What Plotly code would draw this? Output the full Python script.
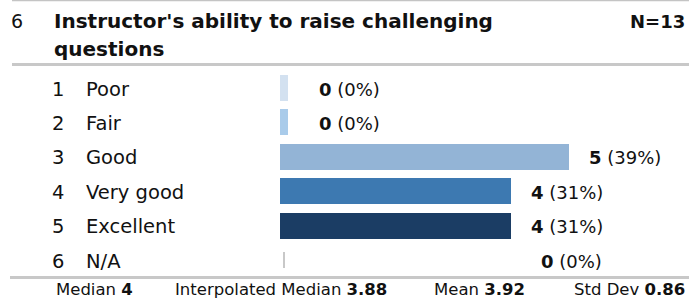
import plotly.graph_objects as go

# ---------------- data ----------------
question_no = "6"
question = ["Instructor's ability to raise challenging", "questions"]
n_total = "N=13"
codes = ["1", "2", "3", "4", "5", "6"]
categories = ["Poor", "Fair", "Good", "Very good", "Excellent", "N/A"]
counts = [0, 0, 5, 4, 4, 0]
percents = [0, 0, 39, 31, 31, 0]
stat_names = ["Median", "Interpolated Median", "Mean", "Std Dev"]
stat_values = ["4", "3.88", "3.92", "0.86"]

# ---------------- style ----------------
W, H = 689, 301
FONT = "DejaVu Sans"
colors = ["#d3e1f0", "#a9cbea", "#93b4d6", "#3d79b1", "#1b3d64", "#c8c8c8"]
X0_PX = 280.0          # pixel where value 0 sits
PX_PER_UNIT = 57.85    # pixels per count
ROW0_PX = 88.0         # centre of first row
ROW_PX = 34.4          # row pitch
stub = [0.14, 0.14, 0, 0, 0, 0.035]        # minimum visual width for zero bars
bases = [0, 0, 0, 0, 0, 0.05]
widths = [0.756] * 5 + [0.465]
label_gap = 18 / PX_PER_UNIT
zero_label = {0: (0.64, "left"), 1: (0.64, "left"), 5: (5.6, "right")}


def px(x):
    return x / W


def py(y):
    return 1 - y / H


xr = [-X0_PX / PX_PER_UNIT, (W - X0_PX) / PX_PER_UNIT]
yr = [(H - ROW0_PX) / ROW_PX, -ROW0_PX / ROW_PX]

rows = list(range(len(categories)))
disp = [c if c > 0 else s for c, s in zip(counts, stub)]

fig = go.Figure()
fig.add_trace(go.Bar(
    y=rows, x=disp, base=bases, width=widths, orientation="h",
    marker=dict(color=colors, line=dict(width=0)),
    hoverinfo="skip", showlegend=False,
))

ann = []
# title
ann.append(dict(x=px(9), y=py(21.5), xref="paper", yref="paper", text=question_no,
                showarrow=False, xanchor="left", yanchor="middle",
                font=dict(family=FONT, size=19, color="#111")))
ann.append(dict(x=px(52), y=py(21.5), xref="paper", yref="paper", text="<b>" + question[0] + "</b>",
                showarrow=False, xanchor="left", yanchor="middle",
                font=dict(family=FONT, size=20, color="#111")))
ann.append(dict(x=px(52), y=py(48.5), xref="paper", yref="paper", text="<b>" + question[1] + "</b>",
                showarrow=False, xanchor="left", yanchor="middle",
                font=dict(family=FONT, size=20, color="#111")))
ann.append(dict(x=px(687), y=py(21.5), xref="paper", yref="paper", text="<b>" + n_total + "</b>",
                showarrow=False, xanchor="right", yanchor="middle",
                font=dict(family=FONT, size=18, color="#111")))

# row labels + value labels
for i in rows:
    ann.append(dict(x=px(50), y=i, xref="paper", yref="y", text=codes[i], showarrow=False,
                    xanchor="left", yanchor="middle", yshift=-1,
                    font=dict(family=FONT, size=19.5, color="#111")))
    ann.append(dict(x=px(84), y=i, xref="paper", yref="y", text=categories[i], showarrow=False,
                    xanchor="left", yanchor="middle", yshift=-1,
                    font=dict(family=FONT, size=19.5, color="#111")))
    if counts[i] > 0:
        lx, anc = counts[i] + label_gap, "left"
    else:
        lx, anc = zero_label[i]
    ann.append(dict(x=lx, y=i, xref="x", yref="y",
                    text="<b>%d</b> (%d%%)" % (counts[i], percents[i]), showarrow=False,
                    xanchor=anc, yanchor="middle", yshift=-1,
                    font=dict(family=FONT, size=18, color="#111")))

# stats footer
stat_pos = [(54, "left"), (173, "left"), (432, "left"), (687, "right")]
for (name, val), (sx, anc) in zip(zip(stat_names, stat_values), stat_pos):
    ann.append(dict(x=px(sx), y=py(289.5), xref="paper", yref="paper",
                    text=name + " <b>" + val + "</b>", showarrow=False,
                    xanchor=anc, yanchor="middle",
                    font=dict(family=FONT, size=16.5, color="#111")))

shapes = [
    dict(type="line", xref="paper", yref="paper", x0=px(12), x1=1, y0=py(0.5), y1=py(0.5),
         line=dict(color="#c4c4c4", width=1.5)),
    dict(type="line", xref="paper", yref="paper", x0=px(12), x1=1, y0=py(64.5), y1=py(64.5),
         line=dict(color="#c8c8c8", width=3)),
    dict(type="line", xref="paper", yref="paper", x0=px(10), x1=1, y0=py(277.5), y1=py(277.5),
         line=dict(color="#c8c8c8", width=3)),
]

fig.update_layout(
    width=W, height=H, margin=dict(l=0, r=0, t=0, b=0),
    paper_bgcolor="white", plot_bgcolor="white",
    xaxis=dict(range=xr, visible=False, fixedrange=True),
    yaxis=dict(range=yr, visible=False, fixedrange=True),
    annotations=ann, shapes=shapes, bargap=0,
)

fig.write_html("out.html", config={"displayModeBar": False},
               post_script="document.body.style.margin='0';document.body.style.overflow='hidden';")
